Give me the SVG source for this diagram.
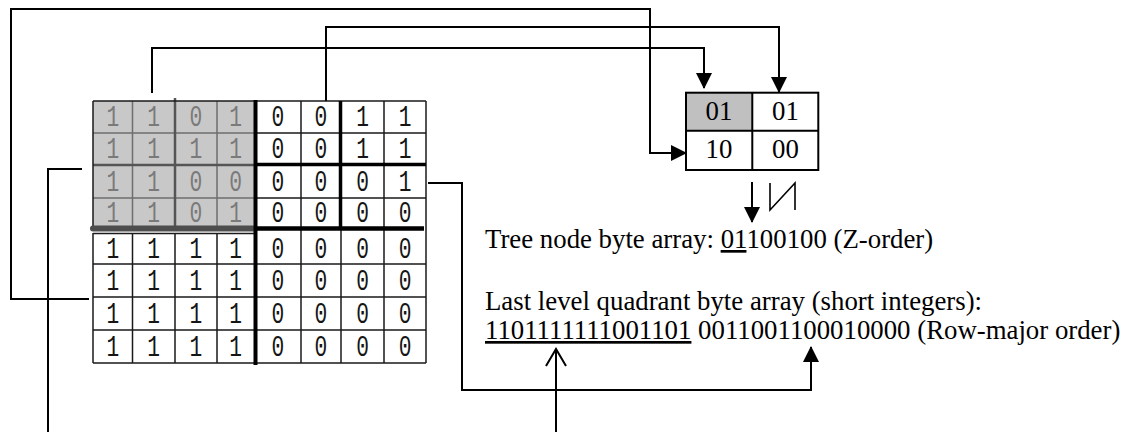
<svg xmlns="http://www.w3.org/2000/svg" width="1141" height="432" viewBox="0 0 1141 432">
<style>
.thin{stroke:#1a1a1a;stroke-width:1.5;fill:none}
.gthin{stroke:#6e6e6e;stroke-width:1.5;fill:none}
.gthick{stroke:#555;stroke-width:2.5;fill:none}
.thick{stroke:#000;stroke-width:3.5;fill:none}
.conn{stroke:#000;stroke-width:2;fill:none}
.cell{font-family:"Liberation Mono","Courier New",monospace;font-size:29.5px;text-anchor:middle}
.g{fill:#7a7a7a}
.k{fill:#151515}
.t{font-family:"Liberation Serif","Times New Roman",serif;font-size:26.8px;fill:#000}
.bt{font-family:"Liberation Serif","Times New Roman",serif;font-size:26.8px;fill:#000;text-anchor:middle}
</style>
<defs>
<marker id="arr" markerUnits="userSpaceOnUse" markerWidth="16" markerHeight="16" viewBox="0 0 16 16" refX="15" refY="8" orient="auto">
<path d="M0,0 L16,8 L0,16 z" fill="#000"/>
</marker>
<marker id="open" markerUnits="userSpaceOnUse" markerWidth="22" markerHeight="24" viewBox="-2 -2 22 24" refX="17" refY="10" orient="auto">
<path d="M0,0 L17,10 L0,20" fill="none" stroke="#000" stroke-width="2"/>
</marker>
</defs>

<g id="grid">
<rect x="93" y="101" width="162" height="130" fill="#c8c8c8"/>
<path class="gthin" d="M132.5,101V231 M217,101V231 M93,133H254 M93,198H254"/>
<path class="gthick" d="M175,98V231 M93,165H254"/>
<path class="thin" d="M93,101H254 M93,101V231"/>
<path class="thin" d="M254,101H426 M426,101V363 M301,101V363 M384,101V363 M254,133H426 M254,198H426"/>
<path class="thin" d="M93,233V363 M132.5,233V363 M175,233V363 M217,233V363 M341,230V363 M93,233.5H254 M93,264H426 M93,297H426 M93,330H426 M93,363H426"/>
<path d="M93,228.5H254" stroke="#4d4d4d" stroke-width="6" stroke-linecap="round"/>
<path class="thick" d="M340.5,101V230 M254,164.5H426"/>
<path d="M254,228.5H424" stroke="#000" stroke-width="4.5"/>
<path d="M255.5,100V365" stroke="#000" stroke-width="4"/>
<g class="cell" transform="scale(0.72,1)">
<text class="g" x="156.6" y="126">1</text><text class="g" x="213.5" y="126">1</text><text class="g" x="272.2" y="126">0</text><text class="g" x="327.4" y="126">1</text>
<text class="k" x="385.8" y="126">0</text><text class="k" x="445.8" y="126">0</text><text class="k" x="503.5" y="126">1</text><text class="k" x="562.5" y="126">1</text>
<text class="g" x="156.6" y="158">1</text><text class="g" x="213.5" y="158">1</text><text class="g" x="272.2" y="158">1</text><text class="g" x="327.4" y="158">1</text>
<text class="k" x="385.8" y="158">0</text><text class="k" x="445.8" y="158">0</text><text class="k" x="503.5" y="158">1</text><text class="k" x="562.5" y="158">1</text>
<text class="g" x="156.6" y="191">1</text><text class="g" x="213.5" y="191">1</text><text class="g" x="272.2" y="191">0</text><text class="g" x="327.4" y="191">0</text>
<text class="k" x="385.8" y="191">0</text><text class="k" x="445.8" y="191">0</text><text class="k" x="503.5" y="191">0</text><text class="k" x="562.5" y="191">1</text>
<text class="g" x="156.6" y="222">1</text><text class="g" x="213.5" y="222">1</text><text class="g" x="272.2" y="222">0</text><text class="g" x="327.4" y="222">1</text>
<text class="k" x="385.8" y="222">0</text><text class="k" x="445.8" y="222">0</text><text class="k" x="503.5" y="222">0</text><text class="k" x="562.5" y="222">0</text>
<text class="k" x="156.6" y="258">1</text><text class="k" x="213.5" y="258">1</text><text class="k" x="272.2" y="258">1</text><text class="k" x="327.4" y="258">1</text>
<text class="k" x="385.8" y="258">0</text><text class="k" x="445.8" y="258">0</text><text class="k" x="503.5" y="258">0</text><text class="k" x="562.5" y="258">0</text>
<text class="k" x="156.6" y="290">1</text><text class="k" x="213.5" y="290">1</text><text class="k" x="272.2" y="290">1</text><text class="k" x="327.4" y="290">1</text>
<text class="k" x="385.8" y="290">0</text><text class="k" x="445.8" y="290">0</text><text class="k" x="503.5" y="290">0</text><text class="k" x="562.5" y="290">0</text>
<text class="k" x="156.6" y="323">1</text><text class="k" x="213.5" y="323">1</text><text class="k" x="272.2" y="323">1</text><text class="k" x="327.4" y="323">1</text>
<text class="k" x="385.8" y="323">0</text><text class="k" x="445.8" y="323">0</text><text class="k" x="503.5" y="323">0</text><text class="k" x="562.5" y="323">0</text>
<text class="k" x="156.6" y="356">1</text><text class="k" x="213.5" y="356">1</text><text class="k" x="272.2" y="356">1</text><text class="k" x="327.4" y="356">1</text>
<text class="k" x="385.8" y="356">0</text><text class="k" x="445.8" y="356">0</text><text class="k" x="503.5" y="356">0</text><text class="k" x="562.5" y="356">0</text>
</g>
</g>

<g id="tree-node">
<rect x="686" y="92.7" width="66.3" height="38" fill="#c0c0c0"/>
<rect x="686" y="92.7" width="132.3" height="77.3" fill="none" stroke="#000" stroke-width="2"/>
<path d="M752.3,92.7V170 M686,130.7H818.3" stroke="#000" stroke-width="2"/>
<text class="bt" x="719" y="120">01</text>
<text class="bt" x="785.5" y="120">01</text>
<text class="bt" x="719" y="158">10</text>
<text class="bt" x="785.5" y="158">00</text>
</g>

<g id="z-order-symbol">
<path d="M770,183V210L795,183V210" fill="none" stroke="#000" stroke-width="1.6"/>
</g>

<g id="tree-array-text">
<text class="t" x="485" y="248">Tree node byte array:  <tspan text-decoration="underline">01</tspan>100100 (Z-order)</text>
</g>

<g id="quadrant-array-text">
<text class="t" x="485" y="310">Last level quadrant byte array (short integers):</text>
<text class="t" x="485" y="339"><tspan text-decoration="underline">1101111111001101</tspan> 0011001100010000 (Row-major order)</text>
</g>

<g id="connectors">
<polyline class="conn" points="89,299 11,299 11,9 650,9 650,153 686,153" marker-end="url(#arr)"/>
<polyline class="conn" points="82,169 48,169 48,432"/>
<polyline class="conn" points="152,93 152,48 704,48 704,88" marker-end="url(#arr)"/>
<polyline class="conn" points="326,101 326,27 779,27 779,92" marker-end="url(#arr)"/>
<polyline class="conn" points="428,183 462,183 462,390 811,390 811,347" marker-end="url(#arr)"/>
<polyline class="conn" points="556,432 556,349" marker-end="url(#open)"/>
<polyline class="conn" points="752,182 752,222" marker-end="url(#arr)"/>
</g>
</svg>
